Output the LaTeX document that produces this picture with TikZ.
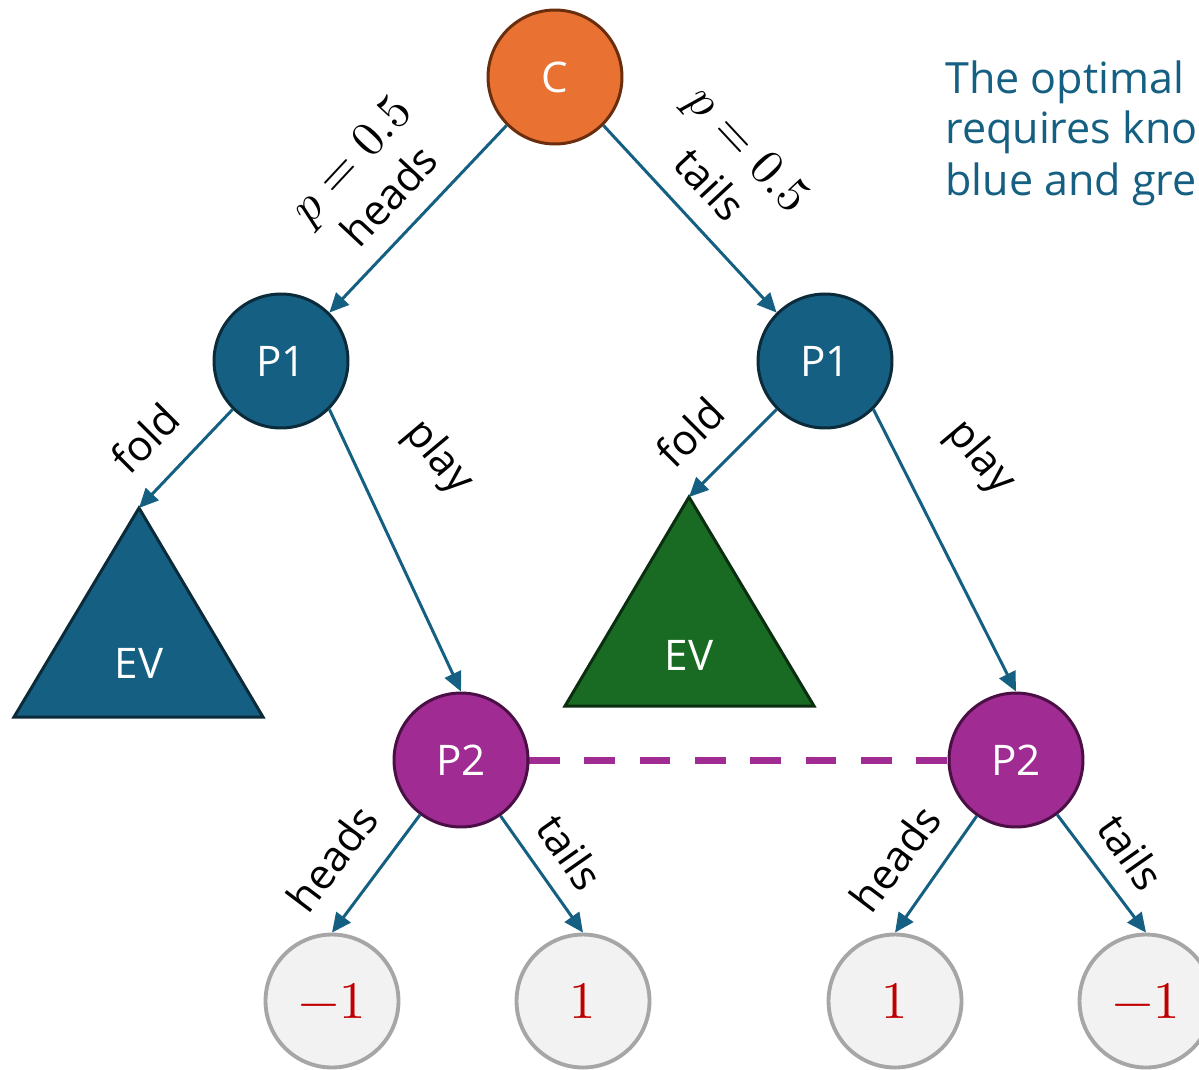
\documentclass[tikz,border=0pt]{standalone}
\usepackage{fontspec}
\usepackage{unicode-math}
\setmainfont{Open Sans}
\setmathfont{Latin Modern Math}
\usetikzlibrary{arrows.meta}

\definecolor{corange}{HTML}{E97132}
\definecolor{cbrown}{HTML}{6A2E0E}
\definecolor{cblue}{HTML}{156082}
\definecolor{cdark}{HTML}{0B2A3A}
\definecolor{cgreen}{HTML}{196B24}
\definecolor{cdkgreen}{HTML}{0B2E10}
\definecolor{cpurple}{HTML}{A02B93}
\definecolor{cplum}{HTML}{4A0F44}
\definecolor{leafgray}{HTML}{F2F2F2}
\definecolor{leafedge}{HTML}{A6A6A6}
\definecolor{payred}{HTML}{C00000}

\newcommand{\probtext}{{\fontsize{28}{28}\selectfont$p = 0.5$}}

\tikzset{
  every node/.style={font=\fontsize{24}{29}\selectfont},
  player/.style={circle, minimum size=2.68cm, inner sep=0pt, line width=1.7pt, text=white},
  chance/.style={player, fill=corange, draw=cbrown},
  pone/.style={player, fill=cblue, draw=cdark},
  ptwo/.style={player, fill=cpurple, draw=cplum},
  leaf/.style={circle, minimum size=2.66cm, inner sep=0pt, line width=2.2pt,
               fill=leafgray, draw=leafedge, text=payred, font=\fontsize{30}{36}\selectfont},
  move/.style={draw=cblue, line width=1.7pt, -{Triangle[length=11pt,width=10pt]}},
  lbl/.style={text=black, inner sep=0pt, align=center},
  evtri/.style={line width=1.7pt, line join=miter},
  infoset/.style={draw=cpurple, line width=4pt, dash pattern=on 17.5pt off 14pt},
  note/.style={text=cblue, anchor=base west, inner sep=0pt, font=\fontsize{24.5}{30}\selectfont},
}

\begin{document}
\begin{tikzpicture}[x=0.02cm, y=-0.02cm]
\useasboundingbox (0,0) rectangle (1199,1069);

% side note
\node[note] (n1) at (945,93) {The optimal};
\node[note] (n2) at (945,143) {requires kno};
\node[note] (n3) at (945,195) {blue and gre};

% value triangles (drawn first so arrows sit on top)
\coordinate (evL) at (139,508);
\draw[evtri, draw=cdark, fill=cblue] (evL) -- (14,717) -- (263,717) -- cycle;
\node[text=white] (evLt) at (139,663) {EV};
\coordinate (evR) at (689,497);
\draw[evtri, draw=cdkgreen, fill=cgreen] (evR) -- (565,706) -- (814,706) -- cycle;
\node[text=white] (evRt) at (689,655) {EV};

% information set link
\coordinate (p2Le) at (529,760);
\coordinate (p2Rw) at (948,760);
\draw[infoset] (p2Le) -- (p2Rw);

% decision nodes
\node[chance] (c) at (555,77) {C};
\node[pone] (p1L) at (281,361) {P1};
\node[pone] (p1R) at (825,361) {P1};
\node[ptwo] (p2L) at (461,760) {P2};
\node[ptwo] (p2R) at (1016,760) {P2};

% terminal payoffs
\node[leaf] (lA) at (332,1001) {$-1$};
\node[leaf] (lB) at (583,1001) {$1$};
\node[leaf] (lC) at (895,1001) {$1$};
\node[leaf] (lD) at (1146,1001) {$-1$};

% moves
\draw[move] (c.south west) -- (p1L.north east);
\draw[move] (c.south east) -- (p1R.north west);
\draw[move] (p1L.south west) -- (evL);
\draw[move] (p1L.south east) -- (p2L.north);
\draw[move] (p1R.south west) -- (evR);
\draw[move] (p1R.south east) -- (p2R.north);
\draw[move] (p2L) -- (lA.north);
\draw[move] (p2L) -- (lB.north);
\draw[move] (p2R) -- (lC.north);
\draw[move] (p2R) -- (lD.north);

% move labels
\node[lbl, rotate=47] (tl1) at (369,177) {\probtext\\[1pt]heads};
\node[lbl, rotate=-47] (tl2) at (730,166) {\probtext\\[1pt]tails};
\node[lbl, rotate=45] (fl1) at (145,438) {fold};
\node[lbl, rotate=-50] (pl1) at (438,458) {play};
\node[lbl, rotate=45] (fl2) at (690,432) {fold};
\node[lbl, rotate=-50] (pl2) at (980,458) {play};
\node[lbl, rotate=53] (hd1) at (332,858) {heads};
\node[lbl, rotate=-55] (tl3) at (570,852) {tails};
\node[lbl, rotate=53] (hd2) at (895,858) {heads};
\node[lbl, rotate=-55] (tl4) at (1131,852) {tails};
\end{tikzpicture}
\end{document}
